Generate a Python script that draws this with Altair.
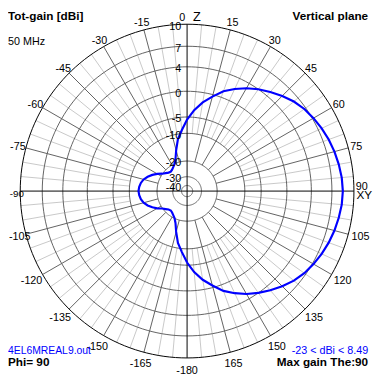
import altair as alt
import numpy as np
import pandas as pd

# ---------------- data ----------------
THETA_DEG = list(range(-180, 181, 5))
GAIN_DBI = [
    -5.8, -9.0, -11.8, -15.6, -18.6, -20.2, -21.5, -22.5, -23.0, -22.5,   # -180 .. -135
    -21.3, -19.9, -18.4, -17.0, -15.7, -14.6, -13.9, -13.5, -13.3,        # -130 .. -90
    -13.5, -13.9, -14.6, -15.7, -17.0, -18.4, -19.9, -21.3, -22.5,        # -85 .. -45
    -23.0, -22.5, -21.5, -20.2, -18.6, -15.6, -11.8, -9.0, -5.8,          # -40 .. 0
    -3.6, -1.9, -0.4, 1.05, 2.1, 3.1, 4.0, 4.75, 5.5, 6.2,                # 5 .. 50
    6.75, 7.15, 7.5, 7.8, 8.05, 8.25, 8.42, 8.49,                         # 55 .. 90
    8.42, 8.25, 8.05, 7.8, 7.5, 7.15, 6.75, 6.2, 5.5, 4.75,               # 95 .. 140
    4.0, 3.1, 2.1, 1.05, -0.4, -1.9, -3.6, -5.8,                          # 145 .. 180
]
RING_DB = [-40, -30, -20, -10, -5, 0, 4, 7, 10]
RING_LABELS = ["-40", "-30", "-20", "-10", "-5", "0", "4", "7", "10"]
ANGLE_TICKS = [15, 30, 45, 60, 75, 90, 105, 120, 135, 150, 165, -180,
               -165, -150, -135, -120, -105, -90, -75, -60, -45, -30, -15]
TOP_TICK = "0"
TITLE_LEFT = "Tot-gain [dBi]"
TITLE_RIGHT = "Vertical plane"
FREQ = "50 MHz"
FILE_NAME = "4EL6MREAL9.out"
RANGE_TEXT = "-23 < dBi < 8.49"
PHI_TEXT = "Phi= 90"
MAX_TEXT = "Max gain The:90"
AXIS_Z = "Z"
AXIS_XY = "XY"

# ---------------- radial scale (EZNEC log grid, px from centre) ----------------
SCALE_PX = [5.7, 14.7, 30.7, 59.0, 75.7, 102.0, 127.0, 148.0, 170.5]
R_OUT = SCALE_PX[-1]


def rad(db):
    return np.interp(db, RING_DB, SCALE_PX)


W = 374
XDOM = [-183, 191]
YDOM = [-191, 183]
FONT = "Liberation Sans"

xs = alt.Scale(domain=XDOM, range=[0, W])
ys = alt.Scale(domain=YDOM, range=[W, 0])


def X(f="x"):
    return alt.X(f"{f}:Q", scale=xs, axis=None)


def Y(f="y"):
    return alt.Y(f"{f}:Q", scale=ys, axis=None)


# pattern
th = np.radians(THETA_DEG)
rr = rad(np.array(GAIN_DBI))
pat = pd.DataFrame({"x": rr * np.sin(th), "y": rr * np.cos(th), "o": np.arange(len(th))})

# rings
phi = np.radians(np.arange(0, 361, 2))
ring_rows = []
for i, db in enumerate(RING_DB):
    r = rad(db)
    for k, p in enumerate(phi):
        ring_rows.append({"id": i, "o": k, "x": r * np.sin(p), "y": r * np.cos(p),
                          "outer": db == RING_DB[-1]})
rings = pd.DataFrame(ring_rows)

# spokes
light_rows, dark_rows, axis_rows = [], [], []
for a in range(-175, 181, 5):
    t = np.radians(a)
    if a % 90 == 0:
        continue
    if a % 15 == 0:
        r0, tgt = rad(-20), dark_rows
    else:
        r0, tgt = rad(-10), light_rows
    tgt.append({"id": a, "o": 0, "x": r0 * np.sin(t), "y": r0 * np.cos(t)})
    tgt.append({"id": a, "o": 1, "x": R_OUT * np.sin(t), "y": R_OUT * np.cos(t)})
for a in (0, 90):
    t = np.radians(a)
    axis_rows.append({"id": a, "o": 0, "x": -R_OUT * np.sin(t), "y": -R_OUT * np.cos(t)})
    axis_rows.append({"id": a, "o": 1, "x": R_OUT * np.sin(t), "y": R_OUT * np.cos(t)})
light = pd.DataFrame(light_rows)
dark = pd.DataFrame(dark_rows)
axes_df = pd.DataFrame(axis_rows)

# angle labels
lab_rows = []
for a in ANGLE_TICKS:
    t = np.radians(a)
    if abs(a) == 90:
        d = 8
    elif abs(a) < 90:
        d = 8.5
    else:
        d = 13
    x = (R_OUT + d) * np.sin(t)
    y = (R_OUT + d) * np.cos(t)
    if abs(a) < 90:
        y -= 1.5
    if a == 90:
        y += 4
    if a == -90:
        y -= 3.5
    half_w = 3.0 * len(str(a))
    x = min(max(x, XDOM[0] + half_w), XDOM[1] - half_w)
    lab_rows.append({"x": x, "y": y, "t": str(a), "small": a == -90})
alab = pd.DataFrame(lab_rows)

rlab = pd.DataFrame({"x": [-6.0] * len(RING_DB), "y": rad(np.array(RING_DB)) - 2.5,
                     "t": RING_LABELS})

GRID_DARK = "#606060"
GRID_LIGHT = "#c8c8c8"


def lines(df, color, width=1.0):
    return alt.Chart(df).mark_line(color=color, strokeWidth=width, interpolate="linear").encode(
        x=X(), y=Y(), detail="id:N", order="o:Q")


layers = [
    lines(light, GRID_LIGHT),
    lines(dark, GRID_DARK),
    lines(rings[~rings.outer], GRID_DARK),
    lines(rings[rings.outer], "#000000"),
    lines(axes_df, "#000000"),
    alt.Chart(pat).mark_line(color="#0000ff", strokeWidth=2.2).encode(x=X(), y=Y(), order="o:Q"),
    alt.Chart(rlab).mark_text(align="right", baseline="middle", font=FONT, fontSize=11,
                              color="#000000").encode(x=X(), y=Y(), text="t:N"),
    alt.Chart(alab[~alab.small]).mark_text(align="center", baseline="middle", font=FONT,
                                           fontSize=11, color="#000000").encode(
        x=X(), y=Y(), text="t:N"),
    alt.Chart(alab[alab.small]).mark_text(align="center", baseline="middle", font=FONT,
                                          fontSize=10, color="#000000").encode(
        x=X(), y=Y(), text="t:N"),
]


def note(txt, x, y, align="left", bold=False, size=11, color="#000000"):
    return alt.Chart(pd.DataFrame({"t": [txt]})).mark_text(
        align=align, baseline="alphabetic", font=FONT, fontSize=size,
        fontWeight="bold" if bold else "normal", color=color
    ).encode(text="t:N", x=alt.value(x), y=alt.value(y))


layers += [
    note(TOP_TICK, 181, 9, align="right"),
    note(AXIS_Z, 189, 9, size=13),
    note(AXIS_XY, 372, 191.5, align="right", size=12),
    note(TITLE_LEFT, 0, 8, bold=True, size=12),
    note(TITLE_RIGHT, 368, 8, align="right", bold=True, size=12),
    note(FREQ, 0, 34),
    note(FILE_NAME, 0, 349, color="#0000ff", size=10.6),
    note(PHI_TEXT, 0, 362, bold=True, size=12),
    note(RANGE_TEXT, 368, 349, align="right", color="#0000ff"),
    note(MAX_TEXT, 368, 362, align="right", bold=True, size=12),
]

chart = alt.layer(*layers).properties(
    width=W, height=W, padding=0, background="#ffffff",
    autosize=alt.AutoSizeParams(type="none"),
).configure_view(stroke=None)

chart.save("out.html", embed_options={"renderer": "svg", "actions": False})
